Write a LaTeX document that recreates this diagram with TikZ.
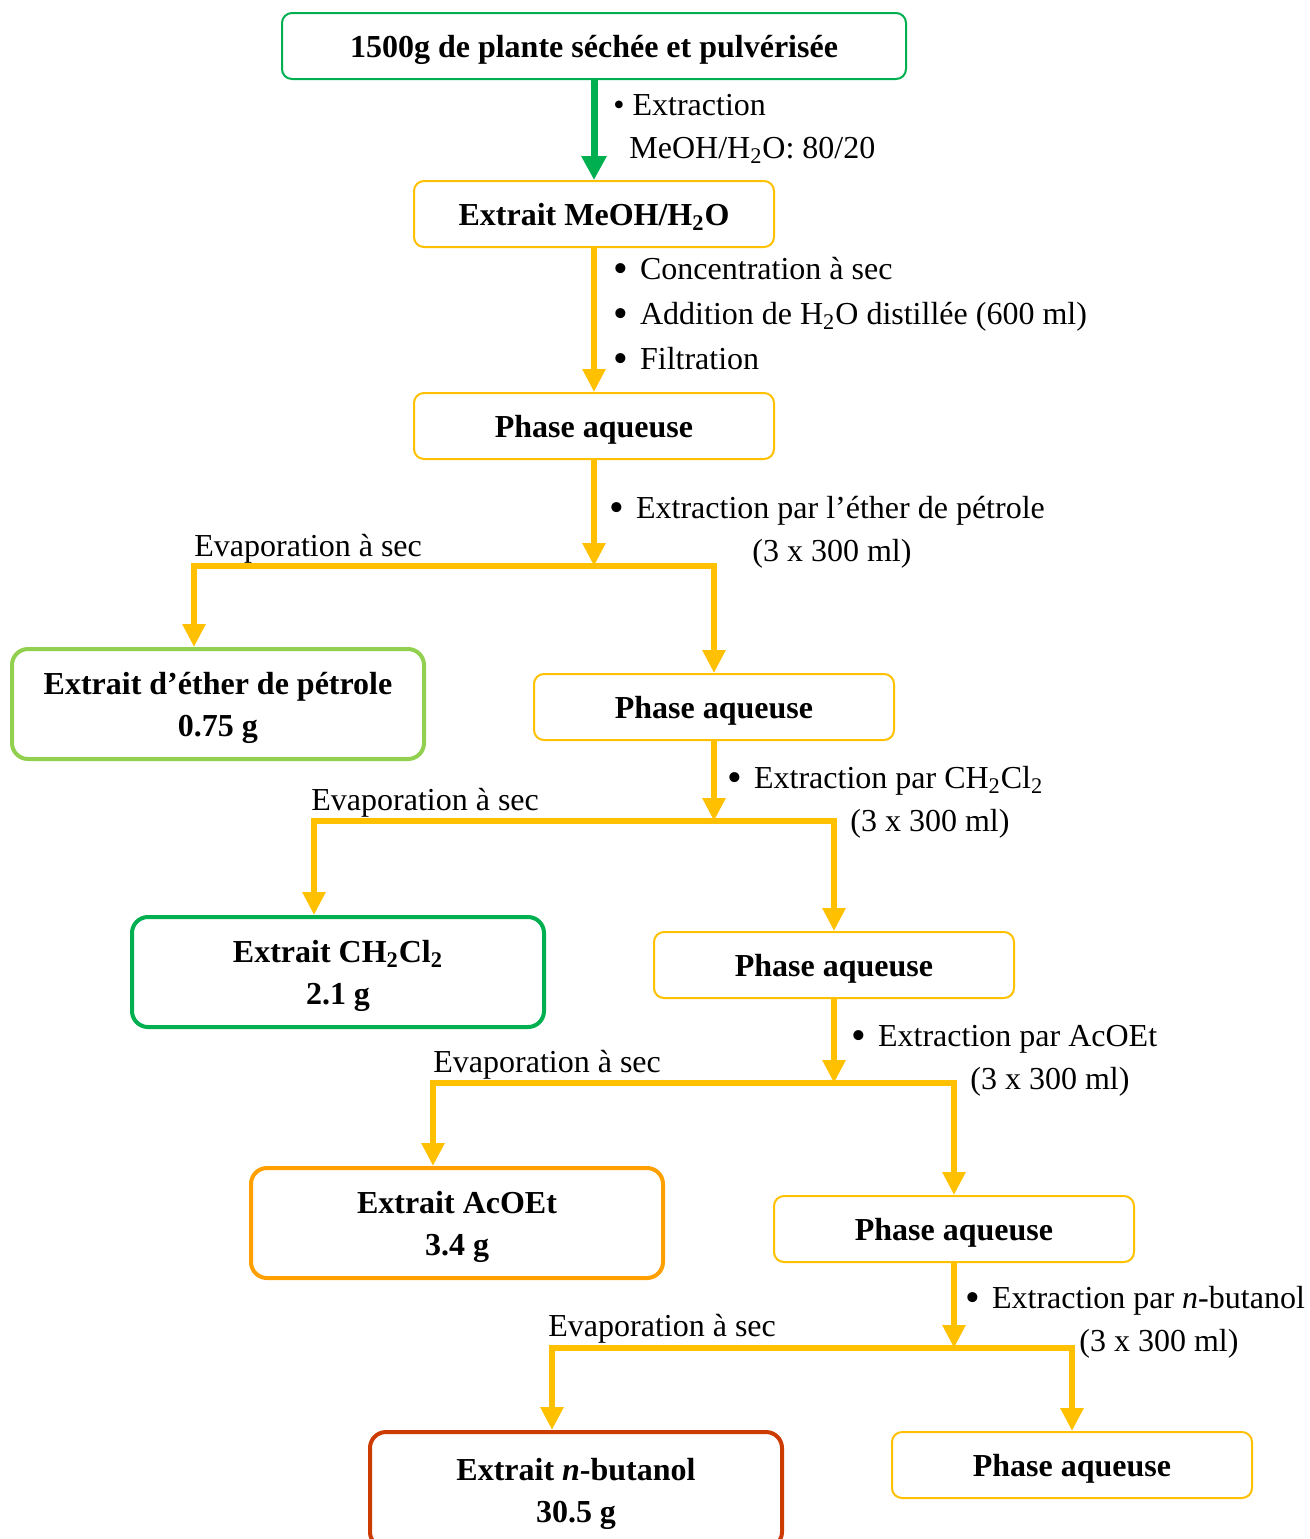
\documentclass[tikz,border=0pt]{standalone}
\usepackage{fontspec}
\setmainfont{Liberation Serif}
\usepackage{tikz}
\usetikzlibrary{arrows.meta}
\definecolor{vert}{HTML}{00B050}
\definecolor{vertclair}{HTML}{92D050}
\definecolor{jaune}{HTML}{FFC000}
\definecolor{orange}{HTML}{FFA000}
\definecolor{rouge}{HTML}{CC3C00}

\newcommand{\puce}{\raisebox{-1.5pt}{\fontsize{21}{21}\selectfont\textbullet}\hspace{6pt}}

\tikzset{
  phase/.style={draw=jaune, line width=1pt, rounded corners=5pt, minimum width=180pt, minimum height=33pt, text depth=0pt, font=\bfseries},
  extrait/.style={draw=#1, line width=2pt, rounded corners=8pt, minimum width=206pt, minimum height=55pt, text depth=0pt, align=center, font=\bfseries},
  flux/.style={draw=jaune, line width=3pt, -{Triangle[width=11pt,length=11.5pt]}},
  branche/.style={draw=jaune, line width=3pt, line join=miter, {Triangle[width=11pt,length=11.5pt]}-{Triangle[width=11pt,length=11.5pt]}},
  etiq/.style={anchor=base west, inner sep=0pt}
}

\begin{document}
\fontsize{16}{21}\selectfont
\begin{tikzpicture}[x=0.5pt, y=-0.5pt]
\useasboundingbox (0,0) rectangle (1310,1539);
\clip (0,0) rectangle (1310,1539);

% boites
\node[draw=vert, line width=1pt, rounded corners=5pt, minimum width=312pt, minimum height=33pt, text depth=0pt, font=\bfseries] (plante) at (594,46) {1500g de plante séchée et pulvérisée};
\node[phase] (meoh) at (594,214) {Extrait MeOH/H\textsubscript{2}O};
\node[phase] (pa1) at (594,426) {Phase aqueuse};
\node[extrait=vertclair] (ether) at (218,704) {Extrait d’éther de pétrole\\0.75 g};
\node[phase] (pa2) at (714,707) {Phase aqueuse};
\node[extrait=vert] (dcm) at (338,972) {Extrait CH\textsubscript{2}Cl\textsubscript{2}\\2.1 g};
\node[phase] (pa3) at (834,965) {Phase aqueuse};
\node[extrait=orange] (acoet) at (457,1223) {Extrait AcOEt\\3.4 g};
\node[phase] (pa4) at (954,1229) {Phase aqueuse};
\node[extrait=rouge, minimum height=58pt] (buoh) at (576,1490) {Extrait \textit{n}-butanol\\30.5 g};
\node[phase] (pa5) at (1072,1465) {Phase aqueuse};

% points de partage
\coordinate (s1) at (594,566);
\coordinate (s2) at (714,821);
\coordinate (s3) at (834,1083);
\coordinate (s4) at (954,1348);

% fleches
\draw[draw=vert, line width=3.5pt, -{Triangle[width=12pt,length=12pt]}] (plante.south) -- (meoh.north);
\draw[flux] (meoh.south) -- (pa1.north);

\draw[flux] (pa1.south) -- (s1);
\draw[branche] ([xshift=-12pt]ether.north) |- (pa2.north |- s1) -- (pa2.north);
\draw[flux] (pa2.south) -- (s2);
\draw[branche] ([xshift=-12pt]dcm.north) |- (pa3.north |- s2) -- (pa3.north);
\draw[flux] (pa3.south) -- (s3);
\draw[branche] ([xshift=-12pt]acoet.north) |- (pa4.north |- s3) -- (pa4.north);
\draw[flux] (pa4.south) -- (s4);
\draw[branche] ([xshift=-12pt]buoh.north) |- (pa5.north |- s4) -- (pa5.north);

% etiquettes
\node[etiq] (e1) at (613,115) {\textbullet{} Extraction};
\node[etiq] (e2) at (629,158) {MeOH/H\textsubscript{2}O: 80/20};
\node[etiq] (c1) at (613,279) {\puce Concentration à sec};
\node[etiq] (c2) at (613,324) {\puce Addition de H\textsubscript{2}O distillée (600 ml)};
\node[etiq] (c3) at (613,369) {\puce Filtration};

\node[etiq] (x1) at (609,518) {\puce Extraction par l’éther de pétrole};
\node[etiq] (v1) at (752,561) {(3 x 300 ml)};
\node[etiq] (ev1) at (194,556) {Evaporation à sec};

\node[etiq] (x2) at (727,788) {\puce Extraction par CH\textsubscript{2}Cl\textsubscript{2}};
\node[etiq] (v2) at (850,831) {(3 x 300 ml)};
\node[etiq] (ev2) at (311,810) {Evaporation à sec};

\node[etiq] (x3) at (851,1046) {\puce Extraction par AcOEt};
\node[etiq] (v3) at (970,1089) {(3 x 300 ml)};
\node[etiq] (ev3) at (433,1072) {Evaporation à sec};

\node[etiq] (x4) at (965,1308) {\puce Extraction par \textit{n}-butanol};
\node[etiq] (v4) at (1079,1351) {(3 x 300 ml)};
\node[etiq] (ev4) at (548,1336) {Evaporation à sec};
\end{tikzpicture}
\end{document}
